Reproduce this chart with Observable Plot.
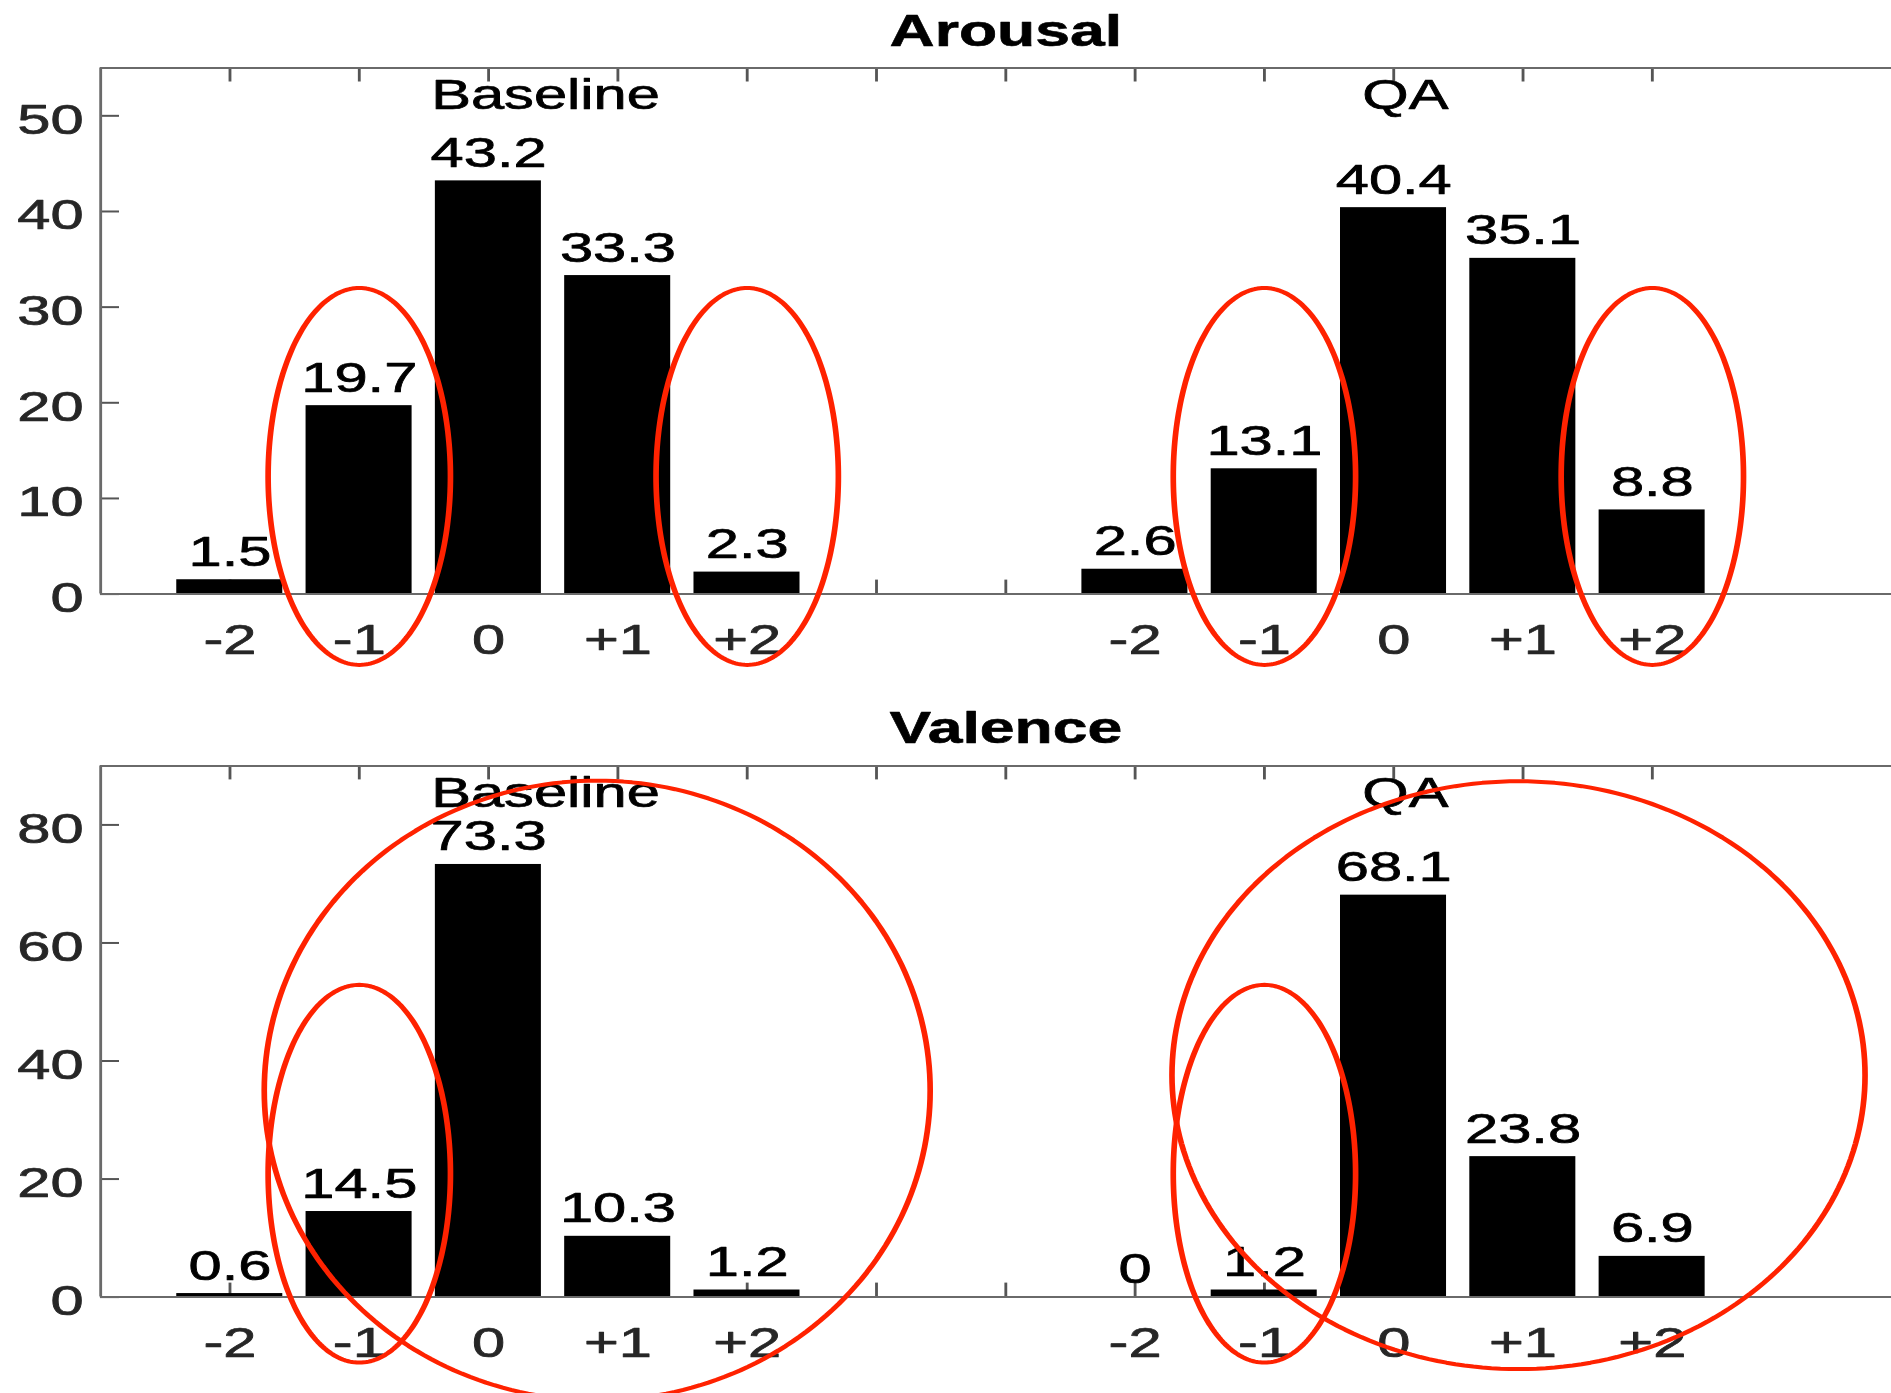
<!DOCTYPE html>
<html><head><meta charset="utf-8">
<script src="https://cdn.jsdelivr.net/npm/d3@7"></script>
<script src="https://cdn.jsdelivr.net/npm/@observablehq/plot@0.6"></script>
<style>
html,body{margin:0;padding:0;background:#fff;overflow:hidden;width:1891px;height:1393px;}
.panel{position:absolute;left:0;transform-origin:0 0;transform:scaleX(1.42);}
</style></head><body>
<div id="p1" class="panel" style="top:0px"></div>
<div id="p2" class="panel" style="top:690px"></div>
<script>
// ---------- data ----------
const categories = ["-2", "-1", "0", "+1", "+2"];
const groups = ["Baseline", "QA"];
const titles = ["Arousal", "Valence"];
const arousalBaseline = [1.5, 19.7, 43.2, 33.3, 2.3];
const arousalQA = [2.6, 13.1, 40.4, 35.1, 8.8];
const valenceBaseline = [0.6, 14.5, 73.3, 10.3, 1.2];
const valenceQA = [0, 1.2, 68.1, 23.8, 6.9];
const arousalTicks = [0, 10, 20, 30, 40, 50];
const valenceTicks = [0, 20, 40, 60, 80];

// red hand-drawn highlight ellipses (annotation shapes, in data units)
const arousalEllipses = [
  {cx: 2, cy: 12.3, rx: 0.705, ry: 19.7},
  {cx: 5, cy: 12.3, rx: 0.705, ry: 19.7},
  {cx: 9, cy: 12.3, rx: 0.705, ry: 19.7},
  {cx: 12, cy: 12.3, rx: 0.705, ry: 19.7}
];
const valenceEllipses = [
  {cx: 2, cy: 20.9, rx: 0.705, ry: 32},
  {cx: 3.84, cy: 35, rx: 2.575, ry: 52.5},
  {cx: 9, cy: 20.9, rx: 0.705, ry: 32},
  {cx: 10.965, cy: 37.6, rx: 2.68, ry: 49.8}
];

// ---------- layout ----------
const groupStart = {Baseline: 1, QA: 8};
const groupLabelX = {Baseline: 3.44, QA: 10.09};
const slotTicks = d3.range(1, 13);
const W = 1360, ML = 70.4, MR = W - 70.4 - 14 * 91.06;
const FS = 42;
const frameColor = "#6a6a6a";
const textColor = "#262626";

function panel({title, series, yTicks, yMax, height, marginTop, marginBottom, ellipses}) {
  const rows = [];
  groups.forEach((g, gi) => series[gi].forEach((v, ci) =>
    rows.push({group: g, cat: categories[ci], pos: groupStart[g] + ci, value: v})));
  const frameH = height - marginTop - marginBottom;
  const frameW = W - ML - MR;
  const tickX = 14, tickY = 13.4;
  const pts = [];
  ellipses.forEach((e, k) => {
    for (let j = 0; j <= 240; j++) {
      const t = 2 * Math.PI * j / 240;
      pts.push({k, x: e.cx + e.rx * Math.cos(t), y: e.cy + e.ry * Math.sin(t)});
    }
  });
  return Plot.plot({
    width: W, height, marginLeft: ML, marginRight: MR, marginTop, marginBottom,
    x: {type: "linear", domain: [0, 14], axis: null},
    y: {domain: [0, yMax], axis: null},
    style: {fontFamily: "'Liberation Sans', Arial, Helvetica, sans-serif", fontSize: FS + "px",
            color: textColor, background: "transparent", overflow: "visible", maxWidth: "none"},
    marks: [
      Plot.ruleX(slotTicks, {x: d => d, insetBottom: frameH - tickX, stroke: "#555", strokeWidth: 2}),
      Plot.ruleX(slotTicks, {x: d => d, insetTop: frameH - tickX, stroke: "#555", strokeWidth: 2}),
      Plot.ruleY(yTicks, {y: d => d, insetRight: frameW - tickY, stroke: "#555", strokeWidth: 2}),
      Plot.ruleY(yTicks, {y: d => d, insetLeft: frameW - tickY, stroke: "#555", strokeWidth: 2}),
      Plot.rect(rows, {x1: d => d.pos - 0.41, x2: d => d.pos + 0.41, y1: 0, y2: "value", fill: "#000"}),
      Plot.ruleX([0, 14], {x: d => d, stroke: frameColor, strokeWidth: 2}),
      Plot.ruleY([0, yMax], {y: d => d, stroke: frameColor, strokeWidth: 2}),
      // y tick labels
      Plot.text(yTicks, {x: 0, y: d => d, text: d => String(d), textAnchor: "end", dx: -12,
                         dy: 4.5, lineAnchor: "middle", fontSize: FS, fill: textColor,
                         stroke: textColor, strokeWidth: 0.7}),
      // x tick labels
      Plot.text(rows, {x: "pos", y: 0, text: "cat", lineAnchor: "top", dy: 30, fontSize: FS,
                       fill: textColor, stroke: textColor, strokeWidth: 0.7}),
      // value labels
      Plot.text(rows, {x: "pos", y: "value", text: d => String(d.value), dy: -14 - 0.32 * FS,
                       lineAnchor: "middle", fontSize: FS, fill: "#000", stroke: "#000", strokeWidth: 0.7}),
      // group labels
      Plot.text(groups, {x: g => groupLabelX[g], frameAnchor: "top", text: d => d, dy: 41 - 0.32 * FS,
                         lineAnchor: "middle", fontSize: FS, fill: "#000", stroke: "#000", strokeWidth: 0.7}),
      // title
      Plot.text([title], {frameAnchor: "top", text: d => d, dy: -22.5 - 0.32 * 44, lineAnchor: "middle",
                          fontSize: 44, fontWeight: "bold", fill: "#000", stroke: "#000", strokeWidth: 0.6}),
      // red highlight ellipses
      Plot.line(pts, {x: "x", y: "y", z: "k", curve: "linear-closed", stroke: "#ff2200", strokeWidth: 4})
    ]
  });
}

document.getElementById("p1").append(panel({
  title: titles[0], series: [arousalBaseline, arousalQA], yTicks: arousalTicks, yMax: 55,
  height: 690, marginTop: 67.5, marginBottom: 96.4, ellipses: arousalEllipses
}));
document.getElementById("p2").append(panel({
  title: titles[1], series: [valenceBaseline, valenceQA], yTicks: valenceTicks, yMax: 90,
  height: 703, marginTop: 75.4, marginBottom: 96.4, ellipses: valenceEllipses
}));
</script>
</body></html>
